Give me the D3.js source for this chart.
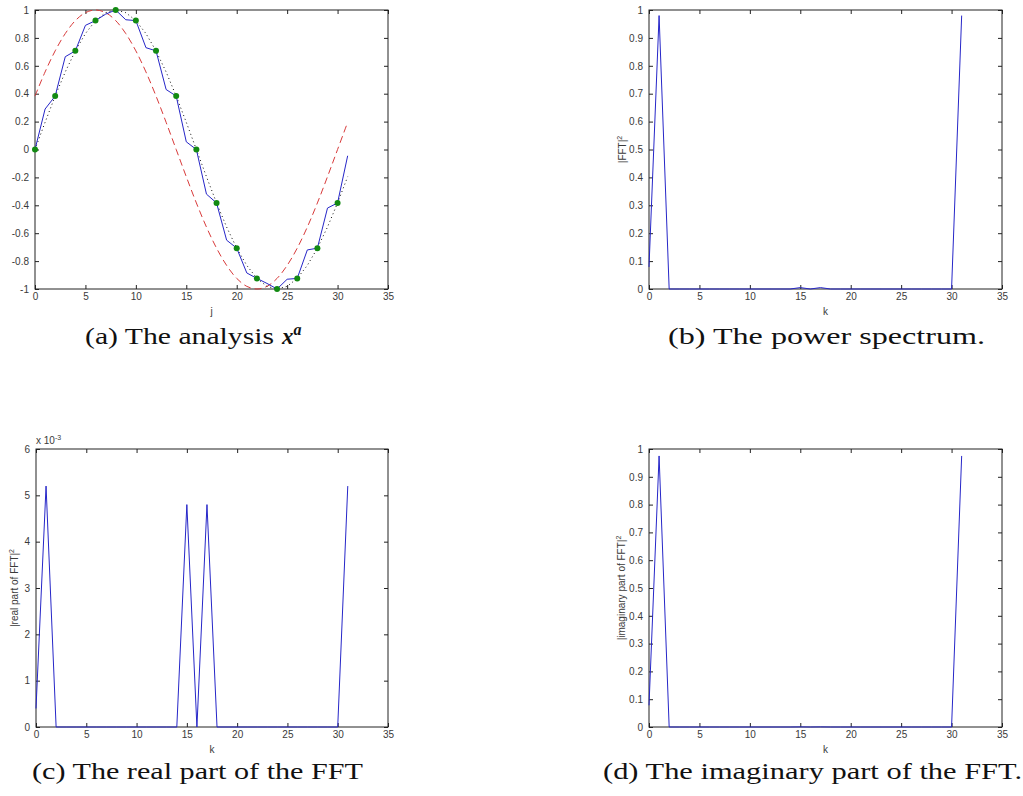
<!DOCTYPE html>
<html>
<head>
<meta charset="utf-8">
<script src="https://cdn.jsdelivr.net/npm/d3@7"></script>
<style>
  html, body { margin: 0; padding: 0; background: #fff; }
  svg { display: block; }
</style>
</head>
<body>
<svg id="chart" width="1023" height="796"></svg>
<script>
// ---------- data ----------
const jIndex = d3.range(32);                 // j = 0..31
const kIndex = d3.range(32);                 // k = 0..31
// (a) the analysis (blue solid)
const analysis = [0, 0.29, 0.383, 0.665, 0.707, 0.89, 0.924, 0.97, 1.0, 0.93, 0.924, 0.73,
  0.707, 0.43, 0.383, 0.055, 0, -0.32, -0.383, -0.65, -0.707, -0.885, -0.924, -0.96,
  -1.0, -0.93, -0.924, -0.72, -0.707, -0.42, -0.383, -0.045];
// (a) true state (black dotted)
const truth = [0, 0.195, 0.383, 0.556, 0.707, 0.831, 0.924, 0.981, 1, 0.981, 0.924, 0.831,
  0.707, 0.556, 0.383, 0.195, 0, -0.195, -0.383, -0.556, -0.707, -0.831, -0.924, -0.981,
  -1, -0.981, -0.924, -0.831, -0.707, -0.556, -0.383, -0.195];
// (a) background (red dashed)
const background = [0.383, 0.556, 0.707, 0.831, 0.924, 0.981, 1, 0.981, 0.924, 0.831, 0.707,
  0.556, 0.383, 0.195, 0, -0.195, -0.383, -0.556, -0.707, -0.831, -0.924, -0.981, -1,
  -0.981, -0.924, -0.831, -0.707, -0.556, -0.383, -0.195, 0, 0.195];
// (a) observations (green dots)
const obsJ = [0, 2, 4, 6, 8, 10, 12, 14, 16, 18, 20, 22, 24, 26, 28, 30];
const obsVal = [0, 0.383, 0.707, 0.924, 1, 0.924, 0.707, 0.383, 0, -0.383, -0.707, -0.924,
  -1, -0.924, -0.707, -0.383];
// (b) power spectrum |FFT|^2
const power = [0.079, 0.98, 0, 0, 0, 0, 0, 0, 0, 0, 0, 0, 0, 0, 0, 0.005, 0, 0.005, 0, 0,
  0, 0, 0, 0, 0, 0, 0, 0, 0, 0, 0, 0.98];
// (c) |real part of FFT|^2
const realPart = [0.0004, 0.0052, 0, 0, 0, 0, 0, 0, 0, 0, 0, 0, 0, 0, 0, 0.0048, 0, 0.0048,
  0, 0, 0, 0, 0, 0, 0, 0, 0, 0, 0, 0, 0, 0.0052];
// (d) |imaginary part of FFT|^2
const imagPart = [0.078, 0.975, 0, 0, 0, 0, 0, 0, 0, 0, 0, 0, 0, 0, 0, 0.0004, 0, 0.0004,
  0, 0, 0, 0, 0, 0, 0, 0, 0, 0, 0, 0, 0, 0.975];

const xTicks = [0, 5, 10, 15, 20, 25, 30, 35];
const yTicksA = [-1, -0.8, -0.6, -0.4, -0.2, 0, 0.2, 0.4, 0.6, 0.8, 1];
const yTicksUnit = [0, 0.1, 0.2, 0.3, 0.4, 0.5, 0.6, 0.7, 0.8, 0.9, 1];
const yTicksReal = [0, 0.001, 0.002, 0.003, 0.004, 0.005, 0.006];

// ---------- drawing ----------
const svg = d3.select("#chart");
const FONT = "'Liberation Sans', Arial, sans-serif";
const TXT = "#3a3a3a";
const BLUE = "#2626c8";

function panel(box, xDomain, yDomain, yTicks, yFmt, xLabel) {
  const g = svg.append("g");
  const x = d3.scaleLinear().domain(xDomain).range([box.left, box.right]);
  const y = d3.scaleLinear().domain(yDomain).range([box.bottom, box.top]);
  const tl = 4;
  // inward ticks on all four sides
  const ax = (axis, tr) => {
    const a = g.append("g").attr("transform", tr).call(axis);
    a.select(".domain").remove();
    a.selectAll("line").attr("stroke", "#222").attr("stroke-width", 1);
    a.selectAll("text").attr("font-family", FONT).attr("font-size", "10px").attr("fill", TXT);
    return a;
  };
  ax(d3.axisBottom(x).tickValues(xTicks).tickSizeInner(-tl).tickSizeOuter(0).tickPadding(4)
       .tickFormat(d3.format("d")), `translate(0,${box.bottom})`);
  ax(d3.axisTop(x).tickValues(xTicks).tickSizeInner(-tl).tickSizeOuter(0).tickFormat(""),
       `translate(0,${box.top})`);
  ax(d3.axisLeft(y).tickValues(yTicks).tickSizeInner(-tl).tickSizeOuter(0).tickPadding(6)
       .tickFormat(yFmt), `translate(${box.left},0)`);
  ax(d3.axisRight(y).tickValues(yTicks).tickSizeInner(-tl).tickSizeOuter(0).tickFormat(""),
       `translate(${box.right},0)`);
  g.append("rect").attr("x", box.left).attr("y", box.top)
    .attr("width", box.right - box.left).attr("height", box.bottom - box.top)
    .attr("fill", "none").attr("stroke", "#222").attr("stroke-width", 1);
  g.append("text").attr("x", (box.left + box.right) / 2).attr("y", box.bottom + 26)
    .attr("text-anchor", "middle").attr("font-family", FONT).attr("font-size", "10px")
    .attr("fill", TXT).text(xLabel);
  return { g, x, y };
}

const fmt1 = d => String(+d.toFixed(1));

// (a)
{
  const P = panel({ left: 35, right: 388, top: 10, bottom: 289 }, [0, 35], [-1, 1], yTicksA, fmt1, "j");
  const line = d3.line().x((d, i) => P.x(jIndex[i])).y(d => P.y(d));
  P.g.append("path").datum(background).attr("fill", "none").attr("stroke", "#d83a3a")
    .attr("stroke-width", 1).attr("stroke-dasharray", "7,4")
    .attr("d", line.curve(d3.curveCatmullRom.alpha(0.5)));
  P.g.append("path").datum(truth).attr("fill", "none").attr("stroke", "#111")
    .attr("stroke-width", 1).attr("stroke-dasharray", "1,3")
    .attr("d", d3.line().x((d, i) => P.x(jIndex[i])).y(d => P.y(d)));
  P.g.append("path").datum(analysis).attr("fill", "none").attr("stroke", BLUE)
    .attr("stroke-width", 1)
    .attr("d", d3.line().x((d, i) => P.x(jIndex[i])).y(d => P.y(d)));
  P.g.selectAll("circle.obs").data(obsVal).join("circle").attr("class", "obs")
    .attr("cx", (d, i) => P.x(obsJ[i])).attr("cy", d => P.y(d)).attr("r", 3)
    .attr("fill", "#128a12");
}

function spectrumPanel(box, values, yDomain, yTicks, yFmt, yLabelMain, yLabelX) {
  const P = panel(box, [0, 35], yDomain, yTicks, yFmt, "k");
  P.g.append("path").datum(values).attr("fill", "none").attr("stroke", BLUE)
    .attr("stroke-width", 1)
    .attr("d", d3.line().x((d, i) => P.x(kIndex[i])).y(d => P.y(d)));
  const cy = (box.top + box.bottom) / 2;
  const t = P.g.append("text")
    .attr("transform", `translate(${yLabelX},${cy}) rotate(-90)`)
    .attr("text-anchor", "middle").attr("font-family", FONT).attr("font-size", "10px")
    .attr("fill", TXT);
  t.append("tspan").text(yLabelMain);
  t.append("tspan").attr("dy", -4).attr("font-size", "7px").text("2");
  return P;
}

// (b)
spectrumPanel({ left: 649, right: 1002, top: 10, bottom: 289 }, power, [0, 1], yTicksUnit, fmt1,
  "|FFT|", 626);
// (c)
{
  const P = spectrumPanel({ left: 36, right: 388, top: 449, bottom: 727 }, realPart, [0, 0.006],
    yTicksReal, d => String(Math.round(d * 1000)), "|real part of FFT|", 18);
  const t = P.g.append("text").attr("x", 36).attr("y", 444).attr("font-family", FONT)
    .attr("font-size", "10px").attr("fill", TXT);
  t.append("tspan").text("x 10");
  t.append("tspan").attr("dy", -4).attr("font-size", "7px").text("-3");
}
// (d)
spectrumPanel({ left: 649, right: 1002, top: 449, bottom: 727 }, imagPart, [0, 1], yTicksUnit, fmt1,
  "|imaginary part of FFT|", 625);

// ---------- captions ----------
const CFONT = "'Liberation Serif', 'Times New Roman', serif";
function caption(x, y, str, len) {
  return svg.append("text").attr("x", x).attr("y", y).attr("font-family", CFONT)
    .attr("font-size", "23px").attr("fill", "#111")
    .attr("textLength", len).attr("lengthAdjust", "spacingAndGlyphs").text(str);
}
caption(85, 344, "(a)  The analysis", 189);
const xa = svg.append("text").attr("x", 282).attr("y", 344).attr("font-family", CFONT)
  .attr("font-size", "23px").attr("fill", "#111").attr("font-style", "italic").attr("font-weight", "bold");
xa.append("tspan").text("x");
xa.append("tspan").attr("dy", -9).attr("font-size", "16px").text("a");
caption(668, 344, "(b)  The power spectrum.", 317);
caption(32, 779, "(c)  The real part of the FFT", 331);
caption(603, 779, "(d)  The imaginary part of the FFT.", 419);
</script>
</body>
</html>
